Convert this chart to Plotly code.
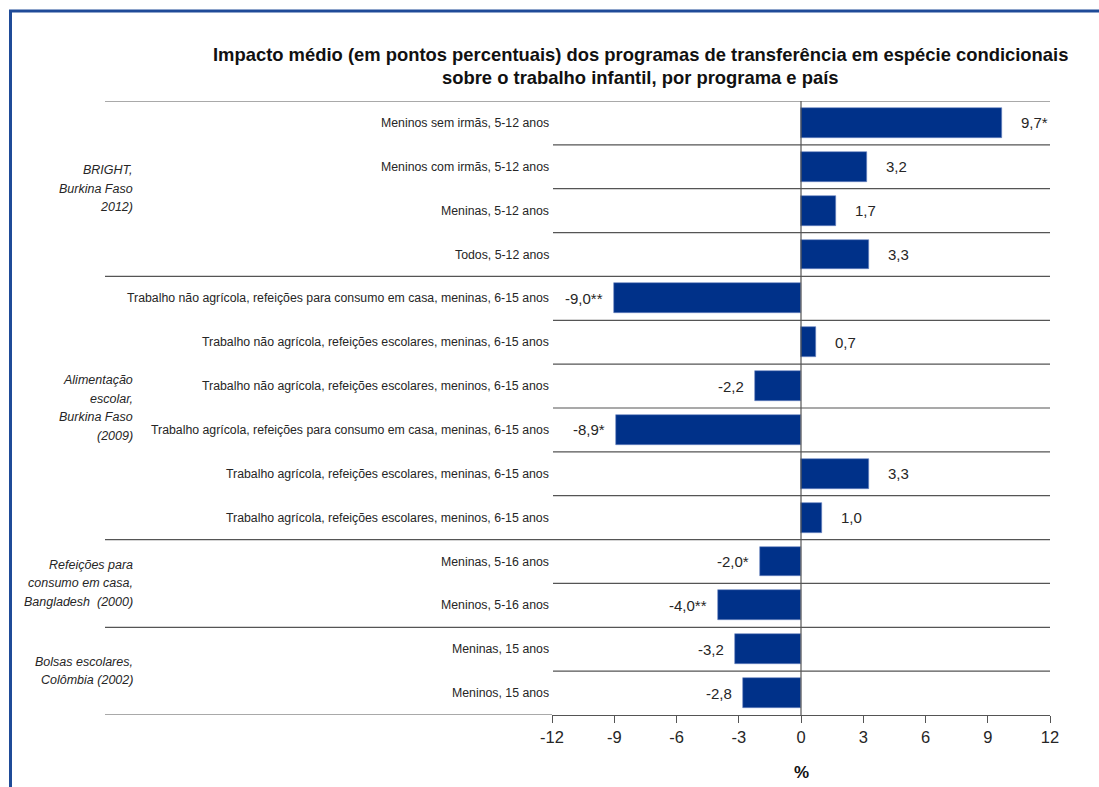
import plotly.graph_objects as go

# Data
categories = [
    "Meninos sem irmãs, 5-12 anos",
    "Meninos com irmãs, 5-12 anos",
    "Meninas, 5-12 anos",
    "Todos, 5-12 anos",
    "Trabalho não agrícola, refeições para consumo em casa, meninas, 6-15 anos",
    "Trabalho não agrícola, refeições escolares, meninas, 6-15 anos",
    "Trabalho não agrícola, refeições escolares, meninos, 6-15 anos",
    "Trabalho agrícola, refeições para consumo em casa, meninas, 6-15 anos",
    "Trabalho agrícola, refeições escolares, meninas, 6-15 anos",
    "Trabalho agrícola, refeições escolares, meninos, 6-15 anos",
    "Meninas, 5-16 anos",
    "Meninos, 5-16 anos",
    "Meninas, 15 anos",
    "Meninos, 15 anos",
]
values = [9.7, 3.2, 1.7, 3.3, -9.0, 0.7, -2.2, -8.9, 3.3, 1.0, -2.0, -4.0, -3.2, -2.8]
significance = ["*", "", "", "", "**", "", "", "*", "", "", "*", "**", "", ""]

group_lines = [
    ["BRIGHT,", "Burkina Faso", "2012)"],
    ["Alimentação", "escolar,", "Burkina Faso", "(2009)"],
    ["Refeições para", "consumo em casa,", "Bangladesh  (2000)"],
    ["Bolsas escolares,", "Colômbia (2002)"],
]
group_sizes = [4, 6, 2, 2]

x_ticks = [-12, -9, -6, -3, 0, 3, 6, 9, 12]

title_lines = [
    "Impacto médio (em pontos percentuais) dos programas de transferência em espécie condicionais",
    "sobre o trabalho infantil, por programa e país",
]
x_title = "%"

# Layout geometry (pixels)
W, H = 1099, 787
ML, MR, MT, MB = 552, 49, 101, 72
PW, PH = W - ML - MR, H - MT - MB

def px_x(px):
    return (px - ML) / PW

def px_y(py):
    return 1 - (py - MT) / PH

NAVY = "#003189"
FONT = "Liberation Sans, Arial, sans-serif"
TXT = "#262626"

rows = list(range(len(categories)))

fig = go.Figure(go.Bar(
    x=values, y=rows, orientation="h", width=0.68,
    marker=dict(color=NAVY, line=dict(width=0.6, color="#6d86c2")),
    hoverinfo="skip",
))

annotations = []
# category labels
for r, c in zip(rows, categories):
    annotations.append(dict(x=px_x(551), xref="paper", y=r, yref="y", text=c,
                            showarrow=False, xanchor="right", yanchor="middle",
                            font=dict(family=FONT, size=12.3, color=TXT)))
# value labels
for r, v, s in zip(rows, values, significance):
    txt = f"{v:.1f}".replace(".", ",") + s
    annotations.append(dict(x=v, xref="x", y=r, yref="y", text=txt, showarrow=False,
                            xanchor="left" if v >= 0 else "right", yanchor="middle",
                            xshift=17 if v >= 0 else -9,
                            font=dict(family=FONT, size=15, color=TXT)))
# group labels, one annotation per line, centred on each group's rows
LINE_GAP = 18.5
start = 0
for lines, n in zip(group_lines, group_sizes):
    centre = start + (n - 1) / 2
    k = len(lines)
    for j, ln in enumerate(lines):
        annotations.append(dict(x=px_x(135), xref="paper", y=centre, yref="y",
                                yshift=-(j - (k - 1) / 2) * LINE_GAP,
                                text=f"<i>{ln}</i>", showarrow=False,
                                xanchor="right", yanchor="middle",
                                font=dict(family=FONT, size=12.5, color=TXT)))
    start += n
# title and axis unit
for j, (ln, ty) in enumerate(zip(title_lines, [55, 78])):
    annotations.append(dict(x=px_x(640), xref="paper", y=px_y(ty), yref="paper",
                            text=f"<b>{ln}</b>", showarrow=False,
                            xanchor="center", yanchor="middle",
                            font=dict(family=FONT, size=18.4, color="#111")))
annotations.append(dict(x=0, xref="x", y=px_y(772), yref="paper", text=f"<b>{x_title}</b>",
                        showarrow=False, xanchor="center", yanchor="middle",
                        font=dict(family=FONT, size=17, color="#111")))

shapes = []
# row separators: group boundaries extend into the label column
edges = set()
start = 0
for n in group_sizes:
    edges.add(start - 0.5)
    start += n
for i in range(len(categories)):
    yb = i - 0.5
    x0 = px_x(105) if yb in edges else px_x(553)
    shapes.append(dict(type="line", xref="paper", yref="y", x0=x0, x1=1, y0=yb, y1=yb,
                       line=dict(color="#555", width=1.2)))
shapes.append(dict(type="line", xref="paper", yref="y", x0=px_x(105), x1=0,
                   y0=len(categories) - 0.5, y1=len(categories) - 0.5,
                   line=dict(color="#555", width=1.2)))
# zero line
shapes.append(dict(type="line", xref="x", yref="paper", x0=0, x1=0, y0=0, y1=1,
                   line=dict(color="#555", width=1.2)))
# frame (left and top edges)
BORDER = "#1f4b98"
shapes.append(dict(type="line", xref="paper", yref="paper", x0=px_x(10.5), x1=px_x(10.5),
                   y0=px_y(10), y1=px_y(H + 5), line=dict(color=BORDER, width=3)))
shapes.append(dict(type="line", xref="paper", yref="paper", x0=px_x(9), x1=px_x(W + 5),
                   y0=px_y(11), y1=px_y(11), line=dict(color=BORDER, width=3)))

fig.update_layout(
    width=W, height=H,
    margin=dict(l=ML, r=MR, t=MT, b=MB),
    plot_bgcolor="white", paper_bgcolor="white",
    showlegend=False, bargap=0,
    annotations=annotations, shapes=shapes,
    xaxis=dict(range=[-12, 12], tickvals=x_ticks, ticktext=[str(t) for t in x_ticks],
               showgrid=False, zeroline=False, showline=True, linecolor="#555", linewidth=1.2,
               ticks="outside", ticklen=7, tickcolor="#555", tickwidth=1.2,
               tickfont=dict(family=FONT, size=16.5, color=TXT)),
    yaxis=dict(range=[len(categories) - 0.5, -0.5], showticklabels=False, showgrid=False,
               zeroline=False, showline=False, ticks=""),
)

fig.write_html("out.html")
